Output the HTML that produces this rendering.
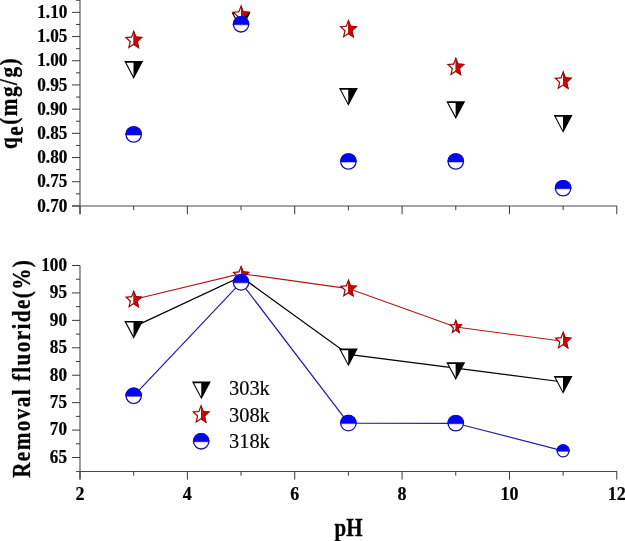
<!DOCTYPE html>
<html><head><meta charset="utf-8"><style>html,body{margin:0;padding:0;background:#fff;}svg{display:block;will-change:transform;}</style></head>
<body><svg width="625" height="541" viewBox="0 0 625 541">
<rect width="625" height="541" fill="#fff"/>
<line x1="80.00" y1="0.00" x2="80.00" y2="214.20" stroke="#4a4a4a" stroke-width="1.1"/>
<line x1="72.00" y1="206.00" x2="617.00" y2="206.00" stroke="#4a4a4a" stroke-width="1.1"/>
<line x1="72.00" y1="205.95" x2="80.00" y2="205.95" stroke="#383838" stroke-width="1.0"/>
<line x1="72.00" y1="181.75" x2="80.00" y2="181.75" stroke="#383838" stroke-width="1.0"/>
<line x1="72.00" y1="157.55" x2="80.00" y2="157.55" stroke="#383838" stroke-width="1.0"/>
<line x1="72.00" y1="133.35" x2="80.00" y2="133.35" stroke="#383838" stroke-width="1.0"/>
<line x1="72.00" y1="109.15" x2="80.00" y2="109.15" stroke="#383838" stroke-width="1.0"/>
<line x1="72.00" y1="84.95" x2="80.00" y2="84.95" stroke="#383838" stroke-width="1.0"/>
<line x1="72.00" y1="60.75" x2="80.00" y2="60.75" stroke="#383838" stroke-width="1.0"/>
<line x1="72.00" y1="36.55" x2="80.00" y2="36.55" stroke="#383838" stroke-width="1.0"/>
<line x1="72.00" y1="12.35" x2="80.00" y2="12.35" stroke="#383838" stroke-width="1.0"/>
<line x1="76.00" y1="193.85" x2="80.00" y2="193.85" stroke="#383838" stroke-width="1.0"/>
<line x1="76.00" y1="169.65" x2="80.00" y2="169.65" stroke="#383838" stroke-width="1.0"/>
<line x1="76.00" y1="145.45" x2="80.00" y2="145.45" stroke="#383838" stroke-width="1.0"/>
<line x1="76.00" y1="121.25" x2="80.00" y2="121.25" stroke="#383838" stroke-width="1.0"/>
<line x1="76.00" y1="97.05" x2="80.00" y2="97.05" stroke="#383838" stroke-width="1.0"/>
<line x1="76.00" y1="72.85" x2="80.00" y2="72.85" stroke="#383838" stroke-width="1.0"/>
<line x1="76.00" y1="48.65" x2="80.00" y2="48.65" stroke="#383838" stroke-width="1.0"/>
<line x1="76.00" y1="24.45" x2="80.00" y2="24.45" stroke="#383838" stroke-width="1.0"/>
<line x1="76.00" y1="0.25" x2="80.00" y2="0.25" stroke="#383838" stroke-width="1.0"/>
<line x1="80.00" y1="206.00" x2="80.00" y2="214.20" stroke="#383838" stroke-width="1.0"/>
<line x1="133.68" y1="206.00" x2="133.68" y2="210.20" stroke="#383838" stroke-width="1.0"/>
<line x1="187.36" y1="206.00" x2="187.36" y2="214.20" stroke="#383838" stroke-width="1.0"/>
<line x1="241.04" y1="206.00" x2="241.04" y2="210.20" stroke="#383838" stroke-width="1.0"/>
<line x1="294.72" y1="206.00" x2="294.72" y2="214.20" stroke="#383838" stroke-width="1.0"/>
<line x1="348.40" y1="206.00" x2="348.40" y2="210.20" stroke="#383838" stroke-width="1.0"/>
<line x1="402.08" y1="206.00" x2="402.08" y2="214.20" stroke="#383838" stroke-width="1.0"/>
<line x1="455.76" y1="206.00" x2="455.76" y2="210.20" stroke="#383838" stroke-width="1.0"/>
<line x1="509.44" y1="206.00" x2="509.44" y2="214.20" stroke="#383838" stroke-width="1.0"/>
<line x1="563.12" y1="206.00" x2="563.12" y2="210.20" stroke="#383838" stroke-width="1.0"/>
<line x1="616.80" y1="206.00" x2="616.80" y2="214.20" stroke="#383838" stroke-width="1.0"/>
<line x1="80.00" y1="265.50" x2="80.00" y2="479.60" stroke="#4a4a4a" stroke-width="1.1"/>
<line x1="76.00" y1="471.50" x2="617.00" y2="471.50" stroke="#4a4a4a" stroke-width="1.1"/>
<line x1="72.00" y1="457.51" x2="80.00" y2="457.51" stroke="#383838" stroke-width="1.0"/>
<line x1="72.00" y1="430.08" x2="80.00" y2="430.08" stroke="#383838" stroke-width="1.0"/>
<line x1="72.00" y1="402.65" x2="80.00" y2="402.65" stroke="#383838" stroke-width="1.0"/>
<line x1="72.00" y1="375.22" x2="80.00" y2="375.22" stroke="#383838" stroke-width="1.0"/>
<line x1="72.00" y1="347.79" x2="80.00" y2="347.79" stroke="#383838" stroke-width="1.0"/>
<line x1="72.00" y1="320.36" x2="80.00" y2="320.36" stroke="#383838" stroke-width="1.0"/>
<line x1="72.00" y1="292.93" x2="80.00" y2="292.93" stroke="#383838" stroke-width="1.0"/>
<line x1="72.00" y1="265.50" x2="80.00" y2="265.50" stroke="#383838" stroke-width="1.0"/>
<line x1="76.00" y1="443.79" x2="80.00" y2="443.79" stroke="#383838" stroke-width="1.0"/>
<line x1="76.00" y1="416.37" x2="80.00" y2="416.37" stroke="#383838" stroke-width="1.0"/>
<line x1="76.00" y1="388.94" x2="80.00" y2="388.94" stroke="#383838" stroke-width="1.0"/>
<line x1="76.00" y1="361.50" x2="80.00" y2="361.50" stroke="#383838" stroke-width="1.0"/>
<line x1="76.00" y1="334.07" x2="80.00" y2="334.07" stroke="#383838" stroke-width="1.0"/>
<line x1="76.00" y1="306.64" x2="80.00" y2="306.64" stroke="#383838" stroke-width="1.0"/>
<line x1="76.00" y1="279.21" x2="80.00" y2="279.21" stroke="#383838" stroke-width="1.0"/>
<line x1="80.00" y1="471.50" x2="80.00" y2="479.60" stroke="#383838" stroke-width="1.0"/>
<line x1="133.68" y1="471.50" x2="133.68" y2="475.70" stroke="#383838" stroke-width="1.0"/>
<line x1="187.36" y1="471.50" x2="187.36" y2="479.60" stroke="#383838" stroke-width="1.0"/>
<line x1="241.04" y1="471.50" x2="241.04" y2="475.70" stroke="#383838" stroke-width="1.0"/>
<line x1="294.72" y1="471.50" x2="294.72" y2="479.60" stroke="#383838" stroke-width="1.0"/>
<line x1="348.40" y1="471.50" x2="348.40" y2="475.70" stroke="#383838" stroke-width="1.0"/>
<line x1="402.08" y1="471.50" x2="402.08" y2="479.60" stroke="#383838" stroke-width="1.0"/>
<line x1="455.76" y1="471.50" x2="455.76" y2="475.70" stroke="#383838" stroke-width="1.0"/>
<line x1="509.44" y1="471.50" x2="509.44" y2="479.60" stroke="#383838" stroke-width="1.0"/>
<line x1="563.12" y1="471.50" x2="563.12" y2="475.70" stroke="#383838" stroke-width="1.0"/>
<line x1="616.80" y1="471.50" x2="616.80" y2="479.60" stroke="#383838" stroke-width="1.0"/>
<g font-family="Liberation Serif" font-weight="bold" font-size="17.6" fill="#000" stroke="#000" stroke-width="0.22">
<text transform="translate(67.3,211.69) scale(0.975,1.05)" text-anchor="end">0.70</text>
<text transform="translate(67.3,187.49) scale(0.975,1.05)" text-anchor="end">0.75</text>
<text transform="translate(67.3,163.29) scale(0.975,1.05)" text-anchor="end">0.80</text>
<text transform="translate(67.3,139.09) scale(0.975,1.05)" text-anchor="end">0.85</text>
<text transform="translate(67.3,114.89) scale(0.975,1.05)" text-anchor="end">0.90</text>
<text transform="translate(67.3,90.69) scale(0.975,1.05)" text-anchor="end">0.95</text>
<text transform="translate(67.3,66.49) scale(0.975,1.05)" text-anchor="end">1.00</text>
<text transform="translate(67.3,42.29) scale(0.975,1.05)" text-anchor="end">1.05</text>
<text transform="translate(67.3,18.09) scale(0.975,1.05)" text-anchor="end">1.10</text>
<text transform="translate(67.0,462.85) scale(0.975,1.05)" text-anchor="end">65</text>
<text transform="translate(67.0,435.42) scale(0.975,1.05)" text-anchor="end">70</text>
<text transform="translate(67.0,407.99) scale(0.975,1.05)" text-anchor="end">75</text>
<text transform="translate(67.0,380.56) scale(0.975,1.05)" text-anchor="end">80</text>
<text transform="translate(67.0,353.13) scale(0.975,1.05)" text-anchor="end">85</text>
<text transform="translate(67.0,325.70) scale(0.975,1.05)" text-anchor="end">90</text>
<text transform="translate(67.0,298.27) scale(0.975,1.05)" text-anchor="end">95</text>
<text transform="translate(67.0,270.84) scale(0.975,1.05)" text-anchor="end">100</text>
<text transform="translate(80.00,499.7) scale(1,1.05)" text-anchor="middle" font-size="18.0">2</text>
<text transform="translate(187.36,499.7) scale(1,1.05)" text-anchor="middle" font-size="18.0">4</text>
<text transform="translate(294.72,499.7) scale(1,1.05)" text-anchor="middle" font-size="18.0">6</text>
<text transform="translate(402.08,499.7) scale(1,1.05)" text-anchor="middle" font-size="18.0">8</text>
<text transform="translate(509.44,499.7) scale(1,1.05)" text-anchor="middle" font-size="18.0">10</text>
<text transform="translate(616.80,499.7) scale(1,1.05)" text-anchor="middle" font-size="18.0">12</text>
</g>
<g font-family="Liberation Serif" font-weight="bold" fill="#000" stroke="#000" stroke-width="0.25">
<text transform="translate(348.5,536) scale(1,1.18)" text-anchor="middle" font-size="21">pH</text>
<text transform="translate(29.9,368.3) rotate(-90) scale(1,1.19)" text-anchor="middle" font-size="21.2" letter-spacing="1.4">Removal fluoride(%)</text>
<text transform="translate(16.8,103) rotate(-90) scale(1,1.19)" text-anchor="middle" font-size="21.2" letter-spacing="1.5">q<tspan dy="5.6">e</tspan><tspan dy="-5.6">(mg/g)</tspan></text>
</g>
<polygon points="124.23,61.10 143.13,61.10 133.68,78.90" fill="#000"/>
<polygon points="126.38,62.80 133.53,62.80 133.53,76.27" fill="#fff"/>
<polygon points="231.59,12.40 250.49,12.40 241.04,30.20" fill="#000"/>
<polygon points="233.74,14.10 240.89,14.10 240.89,27.57" fill="#fff"/>
<polygon points="338.95,88.00 357.85,88.00 348.40,105.80" fill="#000"/>
<polygon points="341.10,89.70 348.25,89.70 348.25,103.17" fill="#fff"/>
<polygon points="446.31,101.20 465.21,101.20 455.76,119.00" fill="#000"/>
<polygon points="448.46,102.90 455.61,102.90 455.61,116.37" fill="#fff"/>
<polygon points="553.67,115.00 572.57,115.00 563.12,132.80" fill="#000"/>
<polygon points="555.82,116.70 562.97,116.70 562.97,130.17" fill="#fff"/>
<polygon points="133.68,29.80 136.25,36.48 142.91,37.06 137.83,41.76 139.38,48.79 133.68,45.03 127.98,48.79 129.53,41.76 124.45,37.06 131.11,36.48" fill="#a00808"/>
<clipPath id="c1"><rect x="113.68" y="20.30" width="20" height="40"/></clipPath>
<polygon points="133.68,33.29 135.36,37.66 139.99,38.06 136.46,41.33 137.50,46.05 133.68,43.53 129.86,46.05 130.90,41.33 127.37,38.06 132.00,37.66" fill="#fff" clip-path="url(#c1)"/>
<clipPath id="c2"><rect x="133.68" y="20.30" width="20" height="40"/></clipPath>
<polygon points="133.68,29.80 136.25,36.48 142.91,37.06 137.83,41.76 139.38,48.79 133.68,45.03 127.98,48.79 129.53,41.76 124.45,37.06 131.11,36.48" fill="#a00808" clip-path="url(#c2)"/>
<polygon points="133.68,32.31 135.61,37.33 140.80,37.78 136.84,41.45 138.02,46.82 133.68,43.95 129.34,46.82 130.52,41.45 126.56,37.78 131.75,37.33" fill="#cc0606" clip-path="url(#c2)"/>
<polygon points="241.04,4.50 243.61,11.18 250.27,11.76 245.19,16.46 246.74,23.49 241.04,19.73 235.34,23.49 236.89,16.46 231.81,11.76 238.47,11.18" fill="#a00808"/>
<clipPath id="c3"><rect x="221.04" y="-5.00" width="20" height="40"/></clipPath>
<polygon points="241.04,7.99 242.72,12.36 247.35,12.76 243.82,16.03 244.86,20.75 241.04,18.23 237.22,20.75 238.26,16.03 234.73,12.76 239.36,12.36" fill="#fff" clip-path="url(#c3)"/>
<clipPath id="c4"><rect x="241.04" y="-5.00" width="20" height="40"/></clipPath>
<polygon points="241.04,4.50 243.61,11.18 250.27,11.76 245.19,16.46 246.74,23.49 241.04,19.73 235.34,23.49 236.89,16.46 231.81,11.76 238.47,11.18" fill="#a00808" clip-path="url(#c4)"/>
<polygon points="241.04,7.01 242.97,12.03 248.16,12.48 244.20,16.15 245.38,21.52 241.04,18.65 236.70,21.52 237.88,16.15 233.92,12.48 239.11,12.03" fill="#cc0606" clip-path="url(#c4)"/>
<polygon points="348.40,19.00 350.97,25.68 357.63,26.26 352.55,30.96 354.10,37.99 348.40,34.23 342.70,37.99 344.25,30.96 339.17,26.26 345.83,25.68" fill="#a00808"/>
<clipPath id="c5"><rect x="328.40" y="9.50" width="20" height="40"/></clipPath>
<polygon points="348.40,22.49 350.08,26.86 354.71,27.26 351.18,30.53 352.22,35.25 348.40,32.73 344.58,35.25 345.62,30.53 342.09,27.26 346.72,26.86" fill="#fff" clip-path="url(#c5)"/>
<clipPath id="c6"><rect x="348.40" y="9.50" width="20" height="40"/></clipPath>
<polygon points="348.40,19.00 350.97,25.68 357.63,26.26 352.55,30.96 354.10,37.99 348.40,34.23 342.70,37.99 344.25,30.96 339.17,26.26 345.83,25.68" fill="#a00808" clip-path="url(#c6)"/>
<polygon points="348.40,21.51 350.33,26.53 355.52,26.98 351.56,30.65 352.74,36.02 348.40,33.15 344.06,36.02 345.24,30.65 341.28,26.98 346.47,26.53" fill="#cc0606" clip-path="url(#c6)"/>
<polygon points="455.76,56.80 458.33,63.48 464.99,64.06 459.91,68.76 461.46,75.79 455.76,72.02 450.06,75.79 451.61,68.76 446.53,64.06 453.19,63.48" fill="#a00808"/>
<clipPath id="c7"><rect x="435.76" y="47.30" width="20" height="40"/></clipPath>
<polygon points="455.76,60.29 457.44,64.66 462.07,65.06 458.54,68.33 459.58,73.05 455.76,70.53 451.94,73.05 452.98,68.33 449.45,65.06 454.08,64.66" fill="#fff" clip-path="url(#c7)"/>
<clipPath id="c8"><rect x="455.76" y="47.30" width="20" height="40"/></clipPath>
<polygon points="455.76,56.80 458.33,63.48 464.99,64.06 459.91,68.76 461.46,75.79 455.76,72.02 450.06,75.79 451.61,68.76 446.53,64.06 453.19,63.48" fill="#a00808" clip-path="url(#c8)"/>
<polygon points="455.76,59.31 457.69,64.33 462.88,64.78 458.92,68.45 460.10,73.82 455.76,70.95 451.42,73.82 452.60,68.45 448.64,64.78 453.83,64.33" fill="#cc0606" clip-path="url(#c8)"/>
<polygon points="563.12,70.60 565.69,77.28 572.35,77.86 567.27,82.56 568.82,89.59 563.12,85.82 557.42,89.59 558.97,82.56 553.89,77.86 560.55,77.28" fill="#a00808"/>
<clipPath id="c9"><rect x="543.12" y="61.10" width="20" height="40"/></clipPath>
<polygon points="563.12,74.09 564.80,78.46 569.43,78.86 565.90,82.13 566.94,86.85 563.12,84.33 559.30,86.85 560.34,82.13 556.81,78.86 561.44,78.46" fill="#fff" clip-path="url(#c9)"/>
<clipPath id="c10"><rect x="563.12" y="61.10" width="20" height="40"/></clipPath>
<polygon points="563.12,70.60 565.69,77.28 572.35,77.86 567.27,82.56 568.82,89.59 563.12,85.82 557.42,89.59 558.97,82.56 553.89,77.86 560.55,77.28" fill="#a00808" clip-path="url(#c10)"/>
<polygon points="563.12,73.11 565.05,78.13 570.24,78.58 566.28,82.25 567.46,87.62 563.12,84.75 558.78,87.62 559.96,82.25 556.00,78.58 561.19,78.13" fill="#cc0606" clip-path="url(#c10)"/>
<circle cx="133.68" cy="134.50" r="7.7" fill="#fff" stroke="#16169a" stroke-width="1.3"/>
<clipPath id="c11"><rect x="121.68" y="122.50" width="24" height="12.4"/></clipPath>
<circle cx="133.68" cy="134.50" r="8.35" fill="#0505f0" clip-path="url(#c11)"/>
<line x1="125.99" y1="135.00" x2="141.37" y2="135.00" stroke="#16169a" stroke-width="0.6"/>
<circle cx="241.04" cy="24.30" r="7.7" fill="#fff" stroke="#16169a" stroke-width="1.3"/>
<clipPath id="c12"><rect x="229.04" y="12.30" width="24" height="12.4"/></clipPath>
<circle cx="241.04" cy="24.30" r="8.35" fill="#0505f0" clip-path="url(#c12)"/>
<line x1="233.35" y1="24.80" x2="248.73" y2="24.80" stroke="#16169a" stroke-width="0.6"/>
<circle cx="348.40" cy="161.50" r="7.7" fill="#fff" stroke="#16169a" stroke-width="1.3"/>
<clipPath id="c13"><rect x="336.40" y="149.50" width="24" height="12.4"/></clipPath>
<circle cx="348.40" cy="161.50" r="8.35" fill="#0505f0" clip-path="url(#c13)"/>
<line x1="340.71" y1="162.00" x2="356.09" y2="162.00" stroke="#16169a" stroke-width="0.6"/>
<circle cx="455.76" cy="161.50" r="7.7" fill="#fff" stroke="#16169a" stroke-width="1.3"/>
<clipPath id="c14"><rect x="443.76" y="149.50" width="24" height="12.4"/></clipPath>
<circle cx="455.76" cy="161.50" r="8.35" fill="#0505f0" clip-path="url(#c14)"/>
<line x1="448.07" y1="162.00" x2="463.45" y2="162.00" stroke="#16169a" stroke-width="0.6"/>
<circle cx="563.12" cy="188.25" r="7.7" fill="#fff" stroke="#16169a" stroke-width="1.3"/>
<clipPath id="c15"><rect x="551.12" y="176.25" width="24" height="12.4"/></clipPath>
<circle cx="563.12" cy="188.25" r="8.35" fill="#0505f0" clip-path="url(#c15)"/>
<line x1="555.43" y1="188.75" x2="570.81" y2="188.75" stroke="#16169a" stroke-width="0.6"/>
<polyline points="133.68,326.90 241.04,276.80 348.40,354.40 455.76,368.20 563.12,382.00" fill="none" stroke="#000" stroke-width="1.25"/>
<polygon points="124.23,320.90 143.13,320.90 133.68,338.70" fill="#000"/>
<polygon points="126.38,322.60 133.53,322.60 133.53,336.07" fill="#fff"/>
<polygon points="338.95,348.50 357.85,348.50 348.40,366.30" fill="#000"/>
<polygon points="341.10,350.20 348.25,350.20 348.25,363.67" fill="#fff"/>
<polygon points="446.31,362.20 465.21,362.20 455.76,380.00" fill="#000"/>
<polygon points="448.46,363.90 455.61,363.90 455.61,377.37" fill="#fff"/>
<polygon points="553.67,376.00 572.57,376.00 563.12,393.80" fill="#000"/>
<polygon points="555.82,377.70 562.97,377.70 562.97,391.17" fill="#fff"/>
<polyline points="133.68,299.50 241.04,273.60 348.40,288.60 455.76,327.00 563.12,341.30" fill="none" stroke="#b01818" stroke-width="1.1"/>
<polygon points="133.68,289.70 136.17,296.12 142.62,296.68 137.70,301.20 139.21,307.97 133.68,304.35 128.15,307.97 129.66,301.20 124.74,296.68 131.19,296.12" fill="#a00808"/>
<clipPath id="c16"><rect x="113.68" y="279.80" width="20" height="40"/></clipPath>
<polygon points="133.68,293.16 135.28,297.30 139.69,297.68 136.33,300.77 137.32,305.24 133.68,302.85 130.04,305.24 131.03,300.77 127.67,297.68 132.08,297.30" fill="#fff" clip-path="url(#c16)"/>
<clipPath id="c17"><rect x="133.68" y="279.80" width="20" height="40"/></clipPath>
<polygon points="133.68,289.70 136.17,296.12 142.62,296.68 137.70,301.20 139.21,307.97 133.68,304.35 128.15,307.97 129.66,301.20 124.74,296.68 131.19,296.12" fill="#a00808" clip-path="url(#c17)"/>
<polygon points="133.68,292.19 135.53,296.97 140.51,297.40 136.71,300.89 137.85,306.00 133.68,303.27 129.51,306.00 130.65,300.89 126.85,297.40 131.83,296.97" fill="#cc0606" clip-path="url(#c17)"/>
<polygon points="241.04,264.90 243.53,271.32 249.98,271.88 245.06,276.40 246.57,283.17 241.04,279.55 235.51,283.17 237.02,276.40 232.10,271.88 238.55,271.32" fill="#a00808"/>
<clipPath id="c18"><rect x="221.04" y="255.00" width="20" height="40"/></clipPath>
<polygon points="241.04,268.36 242.64,272.50 247.05,272.88 243.69,275.97 244.68,280.44 241.04,278.05 237.40,280.44 238.39,275.97 235.03,272.88 239.44,272.50" fill="#fff" clip-path="url(#c18)"/>
<clipPath id="c19"><rect x="241.04" y="255.00" width="20" height="40"/></clipPath>
<polygon points="241.04,264.90 243.53,271.32 249.98,271.88 245.06,276.40 246.57,283.17 241.04,279.55 235.51,283.17 237.02,276.40 232.10,271.88 238.55,271.32" fill="#a00808" clip-path="url(#c19)"/>
<polygon points="241.04,267.39 242.89,272.17 247.87,272.60 244.07,276.09 245.21,281.20 241.04,278.47 236.87,281.20 238.01,276.09 234.21,272.60 239.19,272.17" fill="#cc0606" clip-path="url(#c19)"/>
<polygon points="348.40,278.80 350.89,285.22 357.34,285.78 352.42,290.30 353.93,297.07 348.40,293.45 342.87,297.07 344.38,290.30 339.46,285.78 345.91,285.22" fill="#a00808"/>
<clipPath id="c20"><rect x="328.40" y="268.90" width="20" height="40"/></clipPath>
<polygon points="348.40,282.26 350.00,286.40 354.41,286.78 351.05,289.87 352.04,294.34 348.40,291.95 344.76,294.34 345.75,289.87 342.39,286.78 346.80,286.40" fill="#fff" clip-path="url(#c20)"/>
<clipPath id="c21"><rect x="348.40" y="268.90" width="20" height="40"/></clipPath>
<polygon points="348.40,278.80 350.89,285.22 357.34,285.78 352.42,290.30 353.93,297.07 348.40,293.45 342.87,297.07 344.38,290.30 339.46,285.78 345.91,285.22" fill="#a00808" clip-path="url(#c21)"/>
<polygon points="348.40,281.29 350.25,286.07 355.23,286.50 351.43,289.99 352.57,295.10 348.40,292.37 344.23,295.10 345.37,289.99 341.57,286.50 346.55,286.07" fill="#cc0606" clip-path="url(#c21)"/>
<polygon points="563.12,330.70 565.61,337.12 572.06,337.68 567.14,342.20 568.65,348.97 563.12,345.35 557.59,348.97 559.10,342.20 554.18,337.68 560.63,337.12" fill="#a00808"/>
<clipPath id="c22"><rect x="543.12" y="320.80" width="20" height="40"/></clipPath>
<polygon points="563.12,334.16 564.72,338.30 569.13,338.68 565.77,341.77 566.76,346.24 563.12,343.85 559.48,346.24 560.47,341.77 557.11,338.68 561.52,338.30" fill="#fff" clip-path="url(#c22)"/>
<clipPath id="c23"><rect x="563.12" y="320.80" width="20" height="40"/></clipPath>
<polygon points="563.12,330.70 565.61,337.12 572.06,337.68 567.14,342.20 568.65,348.97 563.12,345.35 557.59,348.97 559.10,342.20 554.18,337.68 560.63,337.12" fill="#a00808" clip-path="url(#c23)"/>
<polygon points="563.12,333.19 564.97,337.97 569.95,338.40 566.15,341.89 567.29,347.00 563.12,344.27 558.95,347.00 560.09,341.89 556.29,338.40 561.27,337.97" fill="#cc0606" clip-path="url(#c23)"/>
<polygon points="455.76,318.80 457.69,324.01 462.70,324.47 458.88,328.14 460.05,333.63 455.76,330.69 451.47,333.63 452.64,328.14 448.82,324.47 453.83,324.01" fill="#a00808"/>
<clipPath id="c24"><rect x="435.76" y="307.00" width="20" height="40"/></clipPath>
<polygon points="455.76,322.54 456.76,325.24 459.75,325.51 457.46,327.70 458.10,330.72 455.76,329.11 453.42,330.72 454.06,327.70 451.77,325.51 454.76,325.24" fill="#fff" clip-path="url(#c24)"/>
<clipPath id="c25"><rect x="455.76" y="307.00" width="20" height="40"/></clipPath>
<polygon points="455.76,318.80 457.69,324.01 462.70,324.47 458.88,328.14 460.05,333.63 455.76,330.69 451.47,333.63 452.64,328.14 448.82,324.47 453.83,324.01" fill="#a00808" clip-path="url(#c25)"/>
<polygon points="455.76,321.39 457.04,324.86 460.66,325.19 457.90,327.84 458.70,331.62 455.76,329.60 452.82,331.62 453.62,327.84 450.86,325.19 454.48,324.86" fill="#cc0606" clip-path="url(#c25)"/>
<polyline points="133.68,395.85 241.04,282.40 348.40,423.20 455.76,423.25 563.12,450.85" fill="none" stroke="#2020ac" stroke-width="1.25"/>
<circle cx="133.68" cy="395.85" r="7.7" fill="#fff" stroke="#16169a" stroke-width="1.3"/>
<clipPath id="c26"><rect x="121.68" y="383.85" width="24" height="12.4"/></clipPath>
<circle cx="133.68" cy="395.85" r="8.35" fill="#0505f0" clip-path="url(#c26)"/>
<line x1="125.99" y1="396.35" x2="141.37" y2="396.35" stroke="#16169a" stroke-width="0.6"/>
<circle cx="241.04" cy="282.40" r="7.7" fill="#fff" stroke="#16169a" stroke-width="1.3"/>
<clipPath id="c27"><rect x="229.04" y="270.40" width="24" height="12.4"/></clipPath>
<circle cx="241.04" cy="282.40" r="8.35" fill="#0505f0" clip-path="url(#c27)"/>
<line x1="233.35" y1="282.90" x2="248.73" y2="282.90" stroke="#16169a" stroke-width="0.6"/>
<circle cx="348.40" cy="423.20" r="7.7" fill="#fff" stroke="#16169a" stroke-width="1.3"/>
<clipPath id="c28"><rect x="336.40" y="411.20" width="24" height="12.4"/></clipPath>
<circle cx="348.40" cy="423.20" r="8.35" fill="#0505f0" clip-path="url(#c28)"/>
<line x1="340.71" y1="423.70" x2="356.09" y2="423.70" stroke="#16169a" stroke-width="0.6"/>
<circle cx="455.76" cy="423.25" r="7.7" fill="#fff" stroke="#16169a" stroke-width="1.3"/>
<clipPath id="c29"><rect x="443.76" y="411.25" width="24" height="12.4"/></clipPath>
<circle cx="455.76" cy="423.25" r="8.35" fill="#0505f0" clip-path="url(#c29)"/>
<line x1="448.07" y1="423.75" x2="463.45" y2="423.75" stroke="#16169a" stroke-width="0.6"/>
<circle cx="563.12" cy="450.85" r="6.0" fill="#fff" stroke="#16169a" stroke-width="1.3"/>
<clipPath id="c30"><rect x="551.12" y="438.85" width="24" height="12.4"/></clipPath>
<circle cx="563.12" cy="450.85" r="6.65" fill="#0505f0" clip-path="url(#c30)"/>
<line x1="557.13" y1="451.35" x2="569.11" y2="451.35" stroke="#16169a" stroke-width="0.6"/>
<polygon points="191.95,381.50 210.85,381.50 201.40,399.30" fill="#000"/>
<polygon points="194.10,383.20 201.25,383.20 201.25,396.67" fill="#fff"/>
<polygon points="201.00,404.20 203.57,410.88 210.23,411.46 205.15,416.16 206.70,423.19 201.00,419.43 195.30,423.19 196.85,416.16 191.77,411.46 198.43,410.88" fill="#a00808"/>
<clipPath id="c31"><rect x="181.00" y="394.70" width="20" height="40"/></clipPath>
<polygon points="201.00,407.69 202.68,412.06 207.31,412.46 203.78,415.73 204.82,420.45 201.00,417.93 197.18,420.45 198.22,415.73 194.69,412.46 199.32,412.06" fill="#fff" clip-path="url(#c31)"/>
<clipPath id="c32"><rect x="201.00" y="394.70" width="20" height="40"/></clipPath>
<polygon points="201.00,404.20 203.57,410.88 210.23,411.46 205.15,416.16 206.70,423.19 201.00,419.43 195.30,423.19 196.85,416.16 191.77,411.46 198.43,410.88" fill="#a00808" clip-path="url(#c32)"/>
<polygon points="201.00,406.71 202.93,411.73 208.12,412.18 204.16,415.85 205.34,421.22 201.00,418.35 196.66,421.22 197.84,415.85 193.88,412.18 199.07,411.73" fill="#cc0606" clip-path="url(#c32)"/>
<circle cx="201.20" cy="441.30" r="7.7" fill="#fff" stroke="#16169a" stroke-width="1.3"/>
<clipPath id="c33"><rect x="189.20" y="429.30" width="24" height="12.4"/></clipPath>
<circle cx="201.20" cy="441.30" r="8.35" fill="#0505f0" clip-path="url(#c33)"/>
<line x1="193.51" y1="441.80" x2="208.89" y2="441.80" stroke="#16169a" stroke-width="0.6"/>
<g font-family="Liberation Serif" font-size="20.4" fill="#000" stroke="#000" stroke-width="0.15">
<text transform="translate(229.0,395.0) scale(1,1.05)">303k</text>
<text transform="translate(229.0,422.3) scale(1,1.05)">308k</text>
<text transform="translate(229.0,448.2) scale(1,1.05)">318k</text>
</g>
</svg></body></html>
